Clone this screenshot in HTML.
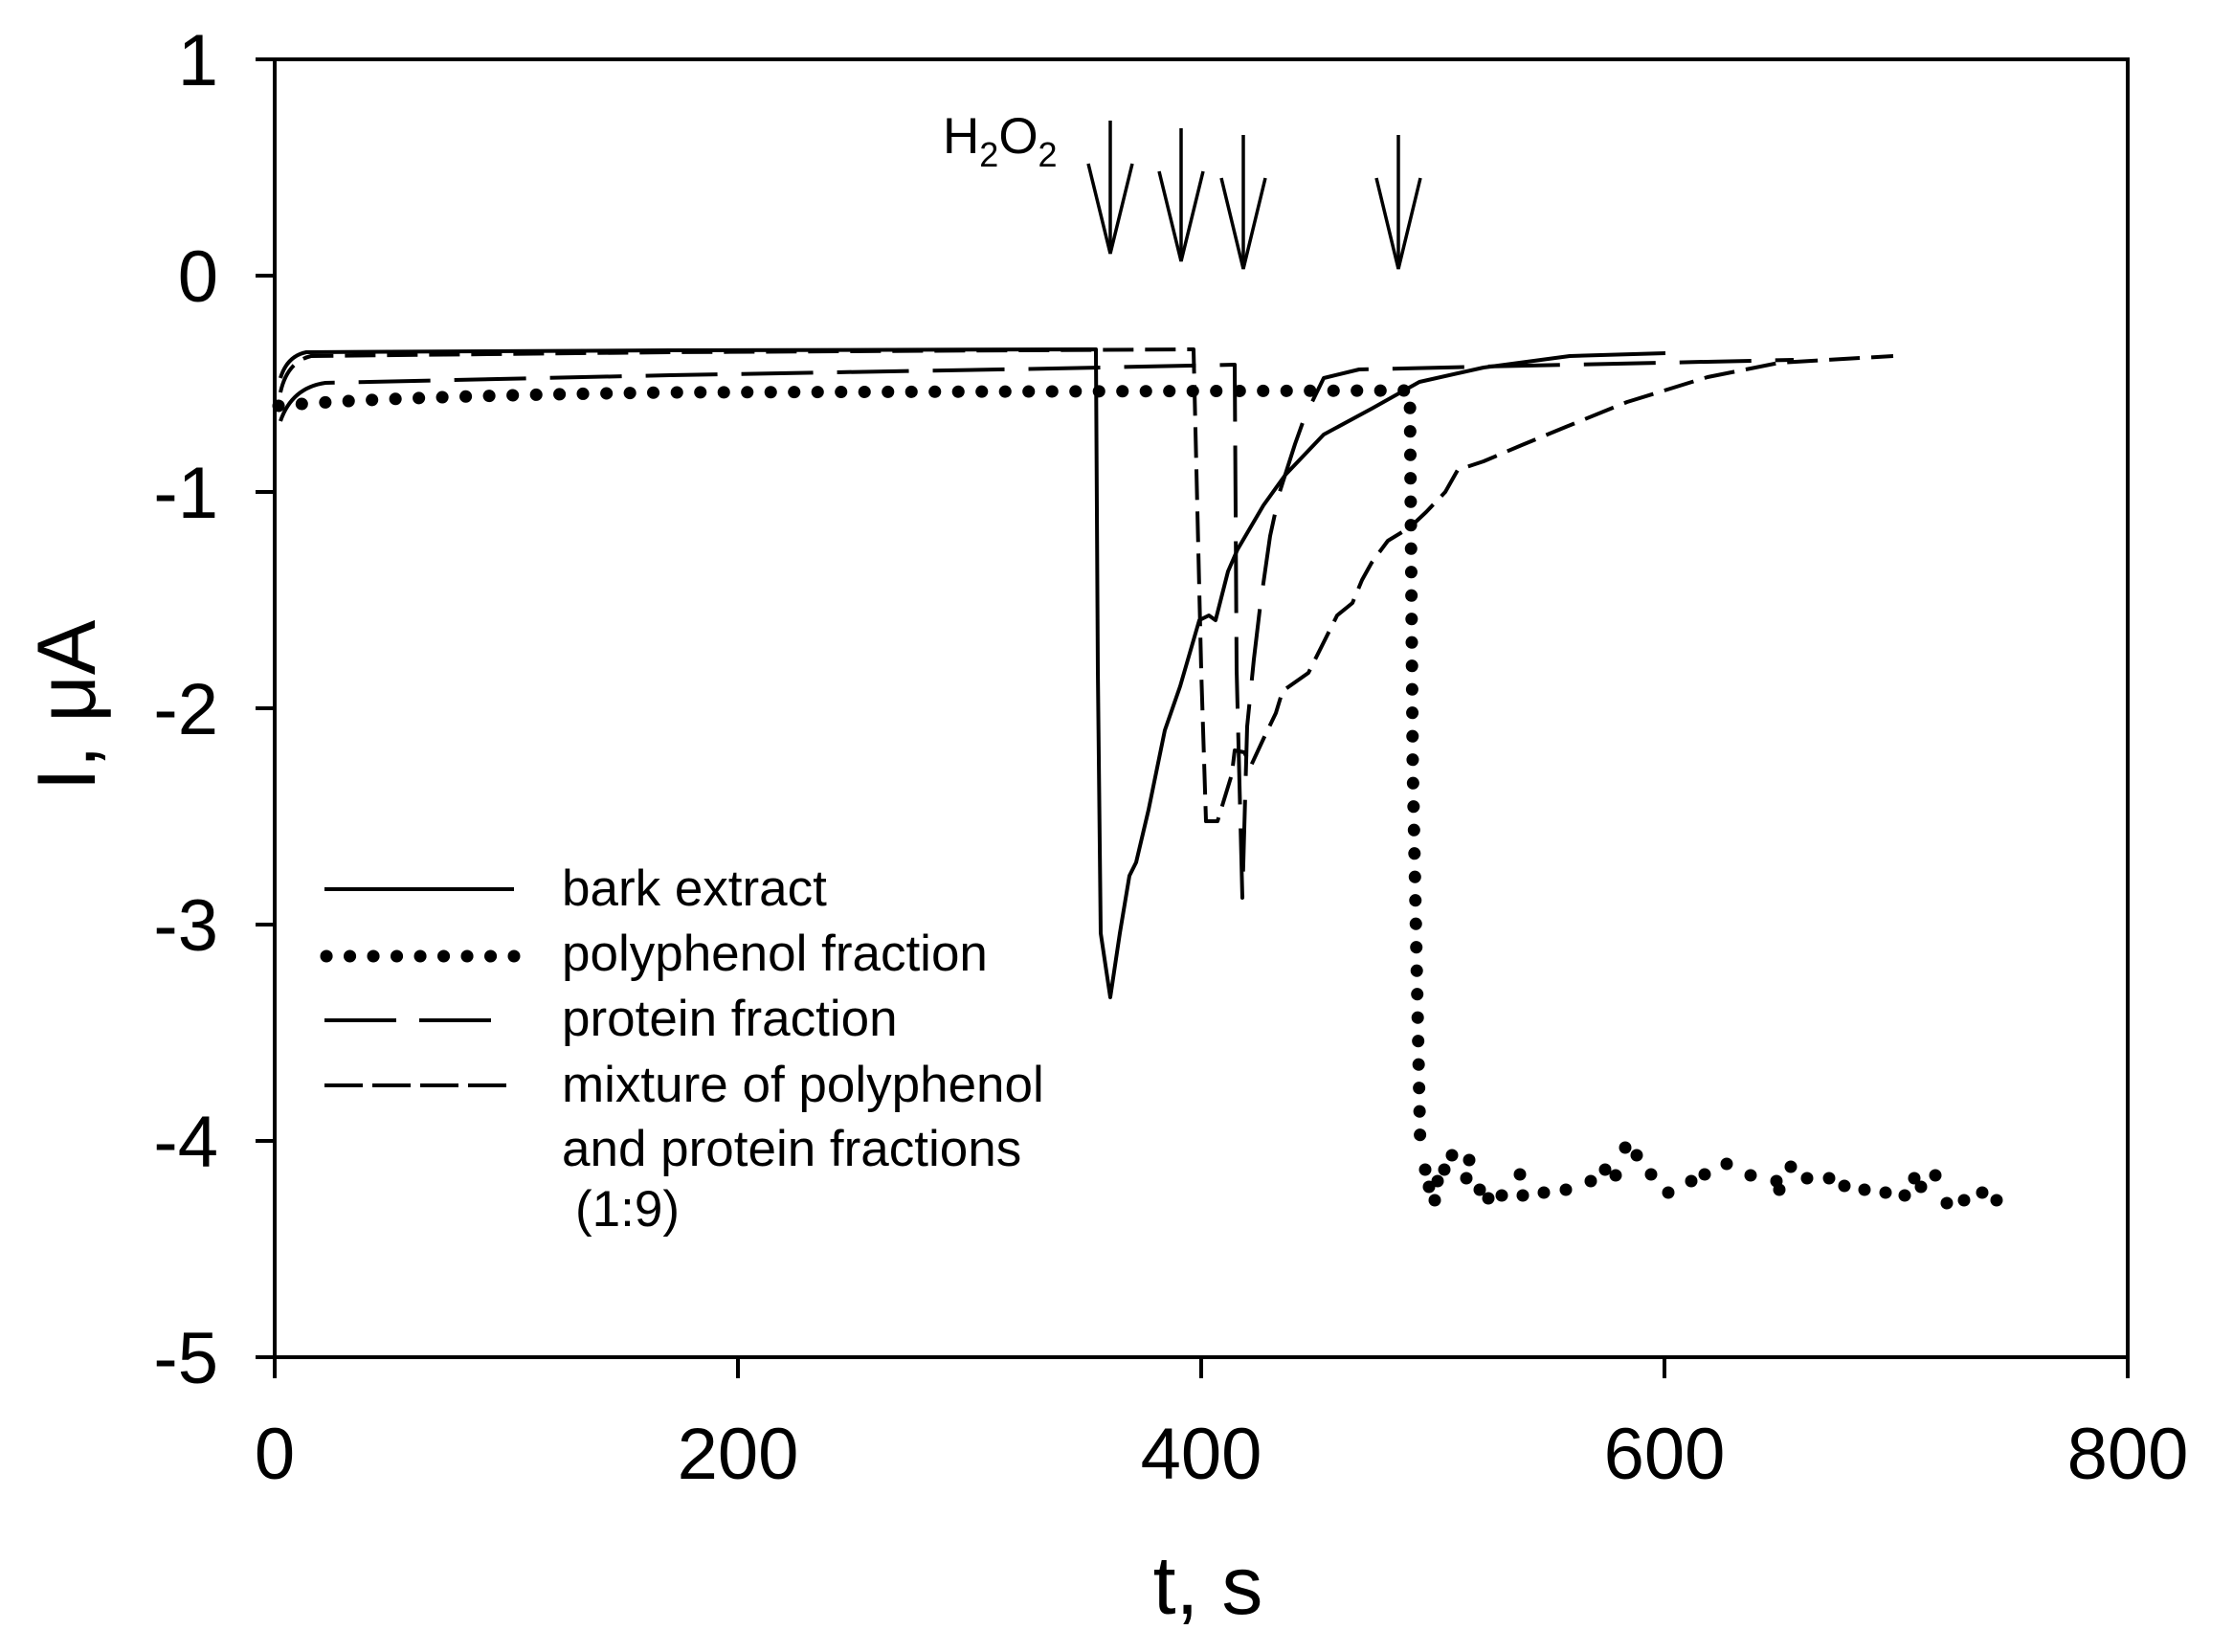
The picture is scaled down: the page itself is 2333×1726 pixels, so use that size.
<!DOCTYPE html>
<html><head><meta charset="utf-8"><style>
html,body{margin:0;padding:0;background:#fff;}
svg{display:block;}
text{font-family:"Liberation Sans",Arial,sans-serif;fill:#000;}
</style></head><body>
<svg width="2333" height="1726" viewBox="0 0 2333 1726" xmlns="http://www.w3.org/2000/svg">
<rect width="2333" height="1726" fill="#fff"/>
<rect x="287" y="62" width="1936" height="1356" fill="none" stroke="#000" stroke-width="4"/>
<g stroke="#000" stroke-width="4">
<line x1="267" y1="62" x2="287" y2="62"/><line x1="267" y1="288" x2="287" y2="288"/>
<line x1="267" y1="514" x2="287" y2="514"/><line x1="267" y1="740" x2="287" y2="740"/>
<line x1="267" y1="966" x2="287" y2="966"/><line x1="267" y1="1192" x2="287" y2="1192"/>
<line x1="267" y1="1418" x2="287" y2="1418"/>
<line x1="287" y1="1418" x2="287" y2="1440"/><line x1="771" y1="1418" x2="771" y2="1440"/>
<line x1="1255" y1="1418" x2="1255" y2="1440"/><line x1="1739" y1="1418" x2="1739" y2="1440"/>
<line x1="2223" y1="1418" x2="2223" y2="1440"/>
</g>
<g font-size="76" text-anchor="end">
<text x="228" y="89">1</text><text x="228" y="315">0</text><text x="228" y="541">-1</text>
<text x="228" y="767">-2</text><text x="228" y="993">-3</text><text x="228" y="1219">-4</text>
<text x="228" y="1445">-5</text>
</g>
<g font-size="76" text-anchor="middle">
<text x="287" y="1545">0</text><text x="771" y="1545">200</text><text x="1255" y="1545">400</text>
<text x="1739" y="1545">600</text><text x="2223" y="1545">800</text>
</g>
<text x="1262" y="1686" font-size="86" text-anchor="middle">t, s</text>
<text transform="translate(99,737) rotate(-90)" font-size="86" text-anchor="middle">I, μA</text>
<text x="985" y="160" font-size="53">H<tspan font-size="36" dy="14">2</tspan><tspan dy="-14">O</tspan><tspan font-size="36" dy="14">2</tspan></text>
<g stroke="#000" stroke-width="3.5" fill="none" stroke-linejoin="miter">
<line x1="1160" y1="126" x2="1160" y2="265"/><polyline points="1137,171 1160,265 1183,171"/>
<line x1="1234" y1="134" x2="1234" y2="273"/><polyline points="1211,179 1234,273 1257,179"/>
<line x1="1299" y1="141" x2="1299" y2="281"/><polyline points="1276,186 1299,281 1322,186"/>
<line x1="1461" y1="141" x2="1461" y2="281"/><polyline points="1438,186 1461,281 1484,186"/>
</g>
<g fill="none" stroke="#000" stroke-width="4" stroke-linejoin="round">
<path d="M293,395 Q300,372 320,368 L700,366 L1145,365 L1147,700 L1150,975 L1160,1042 L1170,975 L1180,915 L1187,901 L1200,846 L1217,763 L1233,717 L1253,648 L1263,643 L1270,648 L1283,597 L1293,574 L1320,528 L1343,496 L1383,454 L1433,427 L1483,399 L1550,384 L1640,372 L1740,369"/>
<path stroke-dasharray="32 12" d="M293,410 Q300,378 325,372 L700,368 L1247,365 L1255,700 L1260,858 L1272,858 L1287,809 L1290,784 L1300,786 L1307,800 L1320,772 L1333,745 L1340,722 L1367,703 L1383,671 L1397,643 L1413,630 L1423,606 L1433,588 L1450,565 L1473,551 L1490,535 L1510,514 L1523,491 L1550,482 L1590,465 L1636,446 L1700,420 L1784,394 L1859,379 L1978,372"/>
<path stroke-dasharray="75 25" d="M293,440 Q305,405 340,400 L700,392 L1100,385 L1290,381 L1292,700 L1298,938 L1303,759 L1310,689 L1317,630 L1327,560 L1337,514 L1353,464 L1363,436 L1383,395 L1420,386 L1550,383 L1874,376"/>
<path stroke-width="13" stroke-linecap="round" stroke-dasharray="0.1 24.4" d="M291,424 Q400,414 700,410 L1473,408 L1476,800 L1484,1205"/>
</g>
<g fill="#000">
<circle cx="1489" cy="1222" r="6.5"/><circle cx="1493" cy="1240" r="6.5"/>
<circle cx="1499" cy="1254" r="6.5"/><circle cx="1502" cy="1234" r="6.5"/><circle cx="1509" cy="1222" r="6.5"/><circle cx="1517" cy="1207" r="6.5"/>
<circle cx="1535" cy="1212" r="6.5"/><circle cx="1532" cy="1231" r="6.5"/><circle cx="1546" cy="1243" r="6.5"/><circle cx="1555" cy="1252" r="6.5"/>
<circle cx="1569" cy="1249" r="6.5"/><circle cx="1588" cy="1227" r="6.5"/><circle cx="1591" cy="1249" r="6.5"/><circle cx="1613" cy="1246" r="6.5"/>
<circle cx="1636" cy="1243" r="6.5"/><circle cx="1662" cy="1234" r="6.5"/><circle cx="1677" cy="1222" r="6.5"/><circle cx="1688" cy="1228" r="6.5"/>
<circle cx="1698" cy="1199" r="6.5"/><circle cx="1710" cy="1207" r="6.5"/><circle cx="1725" cy="1227" r="6.5"/><circle cx="1743" cy="1246" r="6.5"/>
<circle cx="1767" cy="1234" r="6.5"/><circle cx="1781" cy="1227" r="6.5"/><circle cx="1804" cy="1216" r="6.5"/><circle cx="1829" cy="1228" r="6.5"/>
<circle cx="1856" cy="1234" r="6.5"/><circle cx="1859" cy="1243" r="6.5"/><circle cx="1871" cy="1219" r="6.5"/><circle cx="1888" cy="1231" r="6.5"/>
<circle cx="1911" cy="1231" r="6.5"/><circle cx="1927" cy="1239" r="6.5"/><circle cx="1948" cy="1243" r="6.5"/><circle cx="1970" cy="1246" r="6.5"/>
<circle cx="1990" cy="1249" r="6.5"/><circle cx="2000" cy="1231" r="6.5"/><circle cx="2007" cy="1240" r="6.5"/><circle cx="2022" cy="1228" r="6.5"/>
<circle cx="2034" cy="1257" r="6.5"/><circle cx="2052" cy="1254" r="6.5"/><circle cx="2071" cy="1246" r="6.5"/><circle cx="2086" cy="1254" r="6.5"/>
</g>
<g stroke="#000" stroke-width="4" fill="none">
<line x1="339" y1="929" x2="537" y2="929"/>
<line x1="341" y1="999" x2="537" y2="999" stroke-width="13" stroke-linecap="round" stroke-dasharray="0.1 24.4"/>
<line x1="339" y1="1066" x2="537" y2="1066" stroke-dasharray="75 24"/>
<line x1="339" y1="1134" x2="537" y2="1134" stroke-dasharray="40 10"/>
</g>
<g font-size="53">
<text x="587" y="946">bark extract</text>
<text x="587" y="1014">polyphenol fraction</text>
<text x="587" y="1082">protein fraction</text>
<text x="587" y="1151">mixture of polyphenol</text>
<text x="587" y="1218">and protein fractions</text>
<text x="601" y="1281">(1:9)</text>
</g>
</svg>
</body></html>
